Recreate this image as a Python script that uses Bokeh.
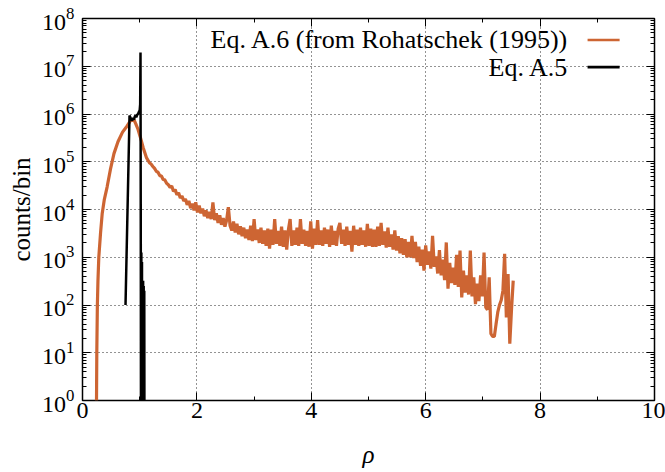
import numpy as np
from bokeh.plotting import figure
from bokeh.models import (LogAxis, LinearAxis, SingleIntervalTicker, LogTicker,
                          Label, BoxAnnotation, LogTickFormatter,
                          CustomJSTickFormatter, CustomLabelingPolicy)
from bokeh.embed import file_html
from bokeh.resources import INLINE

# ---------------- data ----------------
# Eq. A.6 (from Rohatschek (1995)) -- rising part and peak
rho_a6_head = [0.245, 0.25, 0.26, 0.27, 0.285, 0.315, 0.344, 0.38, 0.43, 0.49,
               0.55, 0.62, 0.70, 0.78, 0.84, 0.90, 0.93, 0.97, 1.01, 1.06, 1.12, 1.17]
log_a6_head = [0.0, 1.0, 2.0, 2.5, 3.0, 3.5, 3.91, 4.2, 4.47, 4.85,
               5.17, 5.42, 5.62, 5.75, 5.86, 5.88, 5.80, 5.68, 5.52, 5.30, 5.08, 4.98]
# noisy tail: histogram bins of width 0.03 starting at rho = 1.20
tail_bin_start = 1.20
tail_bin_width = 0.03
log_a6_tail = [
    4.95, 4.90, 4.86, 4.80, 4.78, 4.71, 4.70, 4.63, 4.62, 4.55,
    4.52, 4.46, 4.49, 4.38, 4.42, 4.31, 4.35, 4.24, 4.28, 4.18,
    4.22, 4.10, 4.18, 4.03, 4.12, 3.98, 4.15, 3.94, 4.08, 3.92,
    4.02, 3.86, 3.98, 3.82, 3.95, 3.80, 4.15, 3.78, 3.92, 3.72,
    3.88, 3.68, 3.82, 3.64, 3.78, 4.05, 3.66, 3.56, 3.75, 3.52,
    3.70, 3.48, 3.65, 3.44, 3.62, 3.40, 3.58, 3.36, 3.66, 3.34,
    3.80, 3.36, 3.58, 3.30, 3.62, 3.28, 3.56, 3.24, 3.60, 3.18,
    3.58, 3.26, 3.80, 3.28, 3.55, 3.24, 3.64, 3.22, 3.56, 3.16,
    3.58, 3.80, 3.24, 3.56, 3.26, 3.62, 3.24, 3.80, 3.28, 3.58,
    3.24, 3.55, 3.22, 3.75, 3.18, 3.60, 3.26, 3.78, 3.26, 3.56,
    3.24, 3.62, 3.28, 3.58, 3.22, 3.66, 3.26, 3.55, 3.24, 3.60,
    3.72, 3.28, 3.58, 3.24, 3.64, 3.26, 3.55, 3.12, 3.66, 3.26,
    3.58, 3.24, 3.62, 3.26, 3.56, 3.22, 3.70, 3.24, 3.60, 3.22,
    3.58, 3.22, 3.64, 3.24, 3.72, 3.26, 3.54, 3.20, 3.62, 3.22,
    3.48, 3.16, 3.56, 3.14, 3.44, 3.08, 3.40, 3.05, 3.38, 3.00,
    3.32, 3.00, 3.45, 2.98, 3.32, 2.90, 3.22, 2.82, 3.16, 2.72,
    3.25, 2.84, 3.12, 2.76, 3.45, 2.80, 3.02, 2.66, 3.15, 2.62,
    2.95, 2.52, 3.31, 2.34, 2.88, 2.46, 2.78, 2.42, 3.05, 2.38,
    3.14, 2.16, 2.72, 2.26, 2.62, 2.22, 3.14, 2.18, 2.58, 2.02,
    2.45, 2.08, 2.62, 2.18, 3.10, 1.95, 1.90, 2.58, 1.40, 1.34,
    1.34, 1.60, 1.85, 2.00, 2.10, 2.30, 3.07, 1.74, 2.65, 1.19, 1.90, 2.51,
]

# Eq. A.5 -- (None = empty bin)
rho_a5 = [0.752, 0.822, 0.835, 0.85, 0.868, 0.885, 0.90, 0.915, 0.927, 0.94,
          0.955, 0.97, 0.985, 1.0, 1.008, 1.014, 1.019, 1.024, 1.029, 1.034,
          1.04, 1.045, 1.05, 1.055, 1.06, 1.065, 1.07, 1.075, 1.08, 1.085]
log_a5 = [2.0, 5.97, 5.93, 5.90, 5.86, 5.92, 5.88, 5.95, 5.97, 5.93,
          5.98, 6.0, 6.04, 6.08, 6.2, 7.29, 3.28, None, 3.1, None,
          2.9, None, 2.51, None, 2.51, None, 2.4, None, 2.3, None]

label_a6 = "Eq. A.6 (from Rohatschek (1995))"
label_a5 = "Eq. A.5"
x_label = "ρ"
y_label = "counts/bin"

# ---------------- build series ----------------
rho_a6 = rho_a6_head + [round(tail_bin_start + tail_bin_width * i, 3) for i in range(len(log_a6_tail))]
cnt_a6 = [10 ** v for v in (log_a6_head + log_a6_tail)]
EMPTY = 1e-3  # empty bins drawn below the axis floor
cnt_a5 = [EMPTY if v is None else 10 ** v for v in log_a5]

FONT = "Liberation Serif"
ORANGE = "#cd6533"

p = figure(width=665, height=472, x_range=(0, 10), y_range=(1, 1e8),
           y_axis_type="log", output_backend="svg", toolbar_location=None,
           min_border_left=82, min_border_right=11, min_border_top=18,
           min_border_bottom=72)
p.background_fill_color = "white"
p.border_fill_color = "white"
p.outline_line_color = "black"
p.outline_line_width = 1.5

p.line(rho_a6, cnt_a6, line_color=ORANGE, line_width=3.2)
p.line(rho_a5, cnt_a5, line_color="black", line_width=2.5)

# axes
xt = SingleIntervalTicker(interval=2, num_minor_ticks=2)
yt = LogTicker(num_minor_ticks=10)
for ax in p.xaxis:
    ax.ticker = xt
for ax in p.yaxis:
    ax.ticker = yt
    ax.formatter = LogTickFormatter(min_exponent=0)

for ax in list(p.xaxis) + list(p.yaxis):
    ax.major_tick_in = 8
    ax.major_tick_out = 0
    ax.minor_tick_in = 4
    ax.minor_tick_out = 0
    ax.axis_line_color = None
    ax.major_tick_line_color = "black"
    ax.minor_tick_line_color = "black"
    ax.major_label_text_font = FONT
    ax.major_label_text_font_size = "24px"
    ax.major_label_text_color = "black"
    ax.axis_label_text_font = FONT
    ax.axis_label_text_font_size = "25px"
    ax.axis_label_text_font_style = "normal"
    ax.axis_label_text_color = "black"

p.xaxis.axis_label = x_label
p.xaxis.axis_label_text_font_style = "italic"
p.xaxis.major_label_standoff = 2
p.xaxis.axis_label_standoff = 20
p.yaxis.axis_label = y_label
p.yaxis.major_label_standoff = 8
p.yaxis.axis_label_standoff = 4

# mirrored ticks on top and right (no labels)
def mirror(cls, ticker):
    return cls(ticker=ticker,
               formatter=CustomJSTickFormatter(code="return ''"),
               major_label_policy=CustomLabelingPolicy(code=""),
               major_label_text_font_size="1px", major_tick_in=8,
               major_tick_out=0, minor_tick_in=4, minor_tick_out=0,
               axis_line_color=None, major_label_standoff=0)

p.add_layout(mirror(LinearAxis, xt), "above")
p.add_layout(mirror(LogAxis, yt), "right")

# grid
for g in (p.xgrid, p.ygrid):
    g.grid_line_color = "black"
    g.grid_line_dash = "1 3"
    g.grid_line_width = 1
    g.grid_line_alpha = 0.85
p.ygrid.minor_grid_line_color = None

# legend (gnuplot style: text on the left, sample on the right)
for lbl, yy, col in ((label_a6, 10 ** 7.55, ORANGE), (label_a5, 10 ** 6.98, "black")):
    p.add_layout(Label(x=8.50, y=yy, text=lbl, text_align="right",
                       text_baseline="middle", text_font=FONT,
                       text_font_size="26px", text_color="black"))
    p.add_layout(BoxAnnotation(left=8.83, right=9.39,
                               bottom=yy / 10 ** 0.028, top=yy * 10 ** 0.028,
                               fill_color=col, fill_alpha=1, line_alpha=0))

open("out.html", "w").write(file_html(p, INLINE))
